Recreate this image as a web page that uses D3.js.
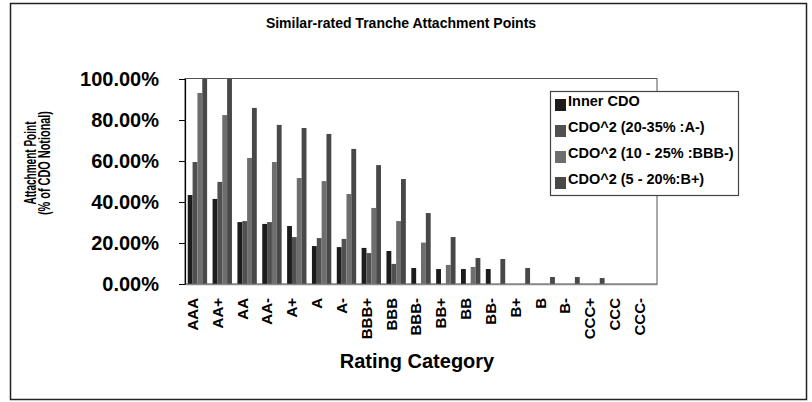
<!DOCTYPE html>
<html><head><meta charset="utf-8">
<script src="https://cdn.jsdelivr.net/npm/d3@7"></script>
<style>body{margin:0;background:#fff}svg{display:block}text{font-family:"Liberation Sans",Arial,sans-serif;font-weight:bold;fill:#000}</style>
</head><body><svg id="c" width="812" height="402"></svg>
<script>
const categories = ["AAA","AA+","AA","AA-","A+","A","A-","BBB+","BBB","BBB-","BB+","BB","BB-","B+","B","B-","CCC+","CCC","CCC-"];
const seriesNames = ["Inner CDO","CDO^2 (20-35% :A-)","CDO^2 (10 - 25% :BBB-)","CDO^2 (5 - 20%:B+)"];
const innerCDO = [43.4,41.5,30.2,29.3,28.3,18.5,18.0,17.6,16.1,7.8,7.3,7.3,7.3,0,0,0,0,0,0];
const cdo2A = [59.5,49.8,30.7,30.2,22.9,22.4,22.0,15.1,9.8,0,0,0,0,0,0,0,0,0,0];
const cdo2BBB = [93.2,82.4,61.5,59.5,51.7,50.2,43.9,37.1,30.7,20.2,9.3,8.3,0,0,0,0,0,0,0];
const cdo2B = [100,100,85.9,77.6,76.1,73.2,65.9,58.0,51.2,34.6,22.9,12.7,12.2,7.8,3.4,3.4,2.9,0,0];
const yTicks = [0,0.2,0.4,0.6,0.8,1.0];
const colors = ["#1c1c1c","#505050","#6e6e6e","#484848"];

const series = [innerCDO, cdo2A, cdo2BBB, cdo2B];
const svg = d3.select("#c");
const L=185, R=657, T=79, B=284;

svg.append("rect").attr("x",10.5).attr("y",3.5).attr("width",796).attr("height",396).attr("fill","none").attr("stroke","#222").attr("stroke-width",1.5);

svg.append("text").attr("x",401).attr("y",28).attr("text-anchor","middle").style("font-size","14px").text("Similar-rated Tranche Attachment Points");

const x = d3.scaleBand().domain(categories).range([L,R]).paddingInner(0.22).paddingOuter(0.11);
const xs = d3.scaleBand().domain(d3.range(4)).range([0,x.bandwidth()]);
const y = d3.scaleLinear().domain([0,1]).range([B,T]);

svg.append("rect").attr("x",L).attr("y",78.5).attr("width",R-L).attr("height",B-78.5).attr("fill","none").attr("stroke","#555").attr("stroke-width",1);

const g = svg.append("g");
series.forEach((vals,si)=>{
  g.selectAll(null).data(vals.map((v,i)=>({c:categories[i],v:v/100}))).enter().append("rect")
   .attr("x",d=>x(d.c)+xs(si)).attr("width",xs.bandwidth())
   .attr("y",d=>y(d.v)).attr("height",d=>B-y(d.v)).attr("fill",colors[si]);
});

const ya = svg.append("g").attr("transform",`translate(${L},0)`)
  .call(d3.axisLeft(y).tickValues(yTicks).tickFormat(d3.format(".2%")).tickSize(6).tickPadding(20));
ya.select(".domain").attr("stroke","#000").attr("stroke-width",1.2);
ya.selectAll(".tick line").attr("stroke","#000");
ya.selectAll("text").style("font-size","20px").style("font-family","Liberation Sans, Arial, sans-serif").style("font-weight","bold").attr("fill","#000");

const xa = svg.append("g").attr("transform",`translate(0,${B})`).call(d3.axisBottom(x).tickSize(0).tickPadding(0));
xa.select(".domain").attr("stroke","#888").attr("stroke-width",1.5);
xa.selectAll("text").style("font-size","15px").style("font-family","Liberation Sans, Arial, sans-serif").style("font-weight","bold").attr("fill","#000")
  .attr("text-anchor","end").attr("transform","translate(-5,14) rotate(-90)").attr("x",0).attr("y",0).attr("dy","0.36em");

svg.append("text").attr("x",417).attr("y",368).attr("text-anchor","middle").style("font-size","20px").text("Rating Category");

const yt = svg.append("g").attr("transform","translate(0,163)");
yt.append("text").attr("transform","translate(36,0) rotate(-90)").attr("text-anchor","middle").style("font-size","16px").attr("textLength",83).attr("lengthAdjust","spacingAndGlyphs").text("Attachment Point");
yt.append("text").attr("transform","translate(50,0) rotate(-90)").attr("text-anchor","middle").style("font-size","16px").attr("textLength",104).attr("lengthAdjust","spacingAndGlyphs").text("(% of CDO Notional)");

const lg = svg.append("g");
lg.append("rect").attr("x",550.5).attr("y",91.5).attr("width",188).attr("height",104).attr("fill","#fff").attr("stroke","#444").attr("stroke-width",1.2);
seriesNames.forEach((n,i)=>{
  const by = 106 + i*26;
  lg.append("rect").attr("x",555).attr("y",by-7).attr("width",11).attr("height",12).attr("fill",colors[i]);
  lg.append("text").attr("x",568).attr("y",by).style("font-size","14.5px").text(n);
});
</script></body></html>
